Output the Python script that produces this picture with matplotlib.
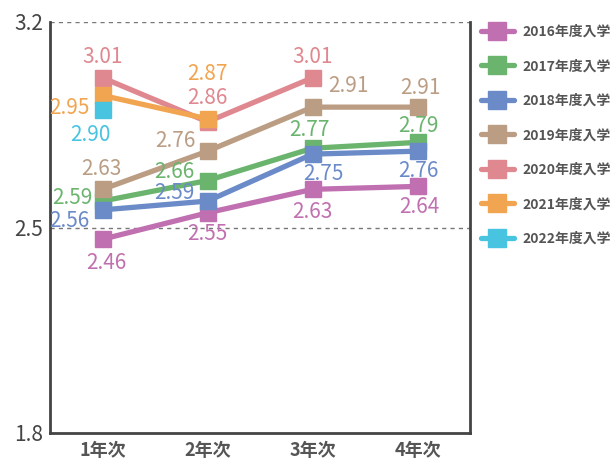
import numpy as np
import matplotlib
matplotlib.use('Agg')
import matplotlib.pyplot as plt
from matplotlib.lines import Line2D

plt.rcParams['font.family'] = ['Noto Sans CJK JP', 'DejaVu Sans']

# data
years = ['1年次', '2年次', '3年次', '4年次']
series = ['2016年度入学', '2017年度入学', '2018年度入学', '2019年度入学',
          '2020年度入学', '2021年度入学', '2022年度入学']
v2016 = [2.46, 2.55, 2.63, 2.64]
v2017 = [2.59, 2.66, 2.77, 2.79]
v2018 = [2.56, 2.59, 2.75, 2.76]
v2019 = [2.63, 2.76, 2.91, 2.91]
v2020 = [3.01, 2.86, 3.01]
v2021 = [2.95, 2.87]
v2022 = [2.90]
values = [v2016, v2017, v2018, v2019, v2020, v2021, v2022]

colors = ['#c070b0', '#6ab46e', '#6a8ac8', '#bb9d84', '#e08890', '#f2a550', '#48c4e0']

# label offsets in points (dx, dy) per series / point
offsets = [
    [(3, -17), (0, -15), (0, -16), (1, -15)],
    [(-22, 2), (-24, 6), (-2, 13), (1, 12)],
    [(-24, -8), (-24, 6), (8, -14), (1, -14)],
    [(-1, 15), (-23, 7), (26, 15), (2, 14)],
    [(0, 15), (0, 17), (0, 15)],
    [(-24, -9), (0, 32)],
    [(-9, -18)],
]

fig = plt.figure(figsize=(6.14, 4.62), dpi=100)
ax = fig.add_axes([50 / 614, 29 / 462, 420 / 614, 411 / 462])

x = np.arange(len(years))
for name, vals, c, offs in zip(series, values, colors, offsets):
    xs = x[:len(vals)]
    ax.plot(xs, vals, color=c, lw=3.8, marker='s', ms=11.5, mec=c,
            solid_capstyle='round', label=name)
    for xi, v, (dx, dy) in zip(xs, vals, offs):
        ax.annotate(f'{v:.2f}', (xi, v), xytext=(dx, dy), textcoords='offset points',
                    ha='center', va='center', color=c, fontsize=15)

ax.set_xlim(-0.5, 3.5)
ax.set_ylim(1.8, 3.2)
ax.set_yticks([1.8, 2.5, 3.2])
ax.set_yticklabels(['1.8', '2.5', '3.2'])
ax.set_xticks(x)
ax.set_xticklabels(years)
ax.tick_params(axis='x', length=0, colors='#555555', labelsize=13, pad=6)
ax.tick_params(axis='y', length=0, colors='#444444', labelsize=15, pad=5)
for lab in ax.get_xticklabels():
    lab.set_fontweight('bold')

for y in [2.5, 3.2]:
    ax.axhline(y, color='#777777', lw=1, ls=(0, (3, 3)), zorder=0)

ax.spines['top'].set_visible(False)
for s in ['left', 'bottom', 'right']:
    ax.spines[s].set_color('#444444')
    ax.spines[s].set_linewidth(2)

handles = [Line2D([], [], color=c, lw=3.8, marker='s', ms=13, solid_capstyle='round')
           for c in colors]
leg = fig.legend(handles, series, loc='upper left', bbox_to_anchor=(475 / 614, 1 - 19 / 462),
                 frameon=False, handlelength=2.4, labelspacing=1.48, fontsize=10,
                 labelcolor='#555555', handletextpad=0.6, borderaxespad=0)
for t in leg.get_texts():
    t.set_fontweight('bold')

fig.savefig('out.png', dpi=100)
